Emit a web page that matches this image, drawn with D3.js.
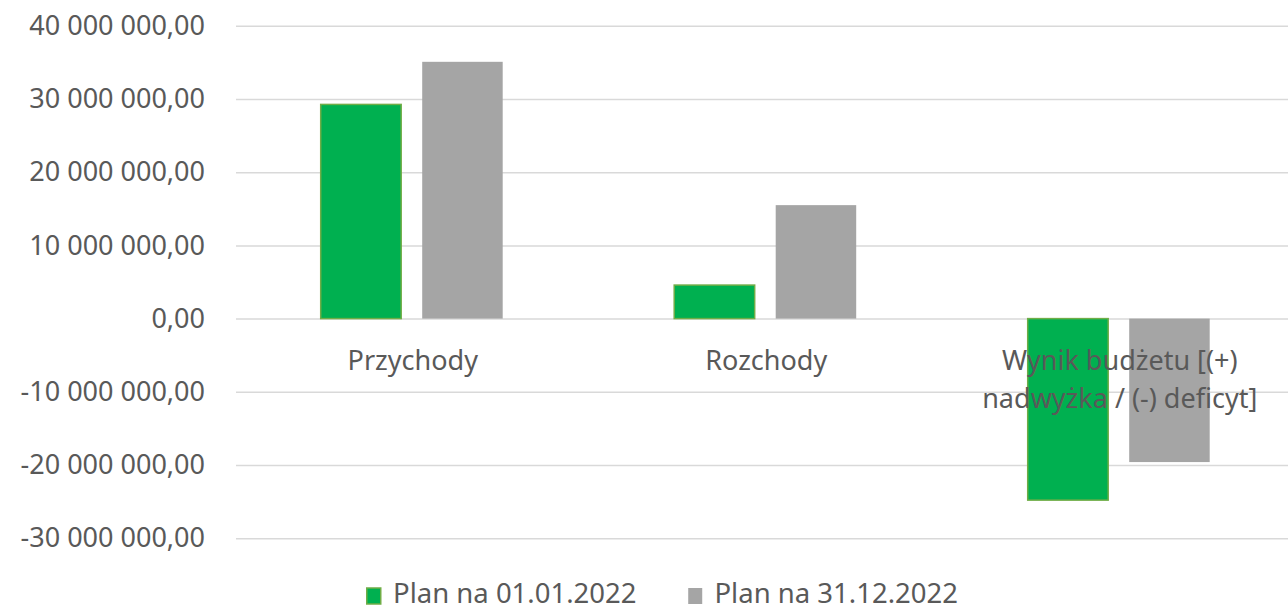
<!DOCTYPE html>
<html>
<head>
<meta charset="utf-8">
<script src="https://cdn.jsdelivr.net/npm/d3@7"></script>
<style>
  html, body { margin: 0; padding: 0; background: #fff; }
  svg { display: block; }
  text { font-family: "Noto Sans", sans-serif; fill: #595959; }
</style>
</head>
<body>
<div class="chartWrapper"></div>
<script>
// data
var categories = ['Przychody', 'Rozchody', 'Wynik budżetu [(+) nadwyżka / (-) deficyt]'];
var seriesNames = ['Plan na 01.01.2022', 'Plan na 31.12.2022'];
var plan0101 = [29260000, 4580000, -24800000];
var plan3112 = [35080000, 15500000, -19600000];
var yTicks = [-30000000, -20000000, -10000000, 0, 10000000, 20000000, 30000000, 40000000];

var seriesColors = ['#00b050', '#a5a5a5'];
var seriesStroke = ['#70ad47', 'none'];

var width = 1288, height = 612;
var plot = { left: 236, right: 1296.5, top: 25.8, bottom: 538.2 };
var fontSize = 27;

var plLocale = d3.formatLocale({ decimal: ',', thousands: '\u00a0', grouping: [3], currency: ['', ''], minus: '-' });
var fmt = plLocale.format(',.2f');

var svg = d3.select('.chartWrapper')
  .append('svg')
  .attr('width', width)
  .attr('height', height);

var x0 = d3.scaleBand()
  .domain(categories)
  .range([plot.left, plot.right]);

var x1 = d3.scaleBand()
  .domain(d3.range(seriesNames.length))
  .range([84.7, 266.7])
  .paddingInner(0.207);

var y = d3.scaleLinear()
  .domain([yTicks[0], yTicks[yTicks.length - 1]])
  .range([plot.bottom, plot.top]);

// gridlines + y labels
var yAxis = d3.axisLeft(y)
  .tickValues(yTicks)
  .tickFormat(fmt)
  .tickSizeInner(-(plot.right - plot.left))
  .tickSizeOuter(0)
  .tickPadding(31);

var gy = svg.append('g')
  .attr('class', 'axis yAxis')
  .attr('transform', 'translate(' + plot.left + ',0)')
  .call(yAxis);
gy.select('.domain').remove();
gy.selectAll('line').attr('stroke', '#d9d9d9').attr('stroke-width', 1.5);
gy.selectAll('text')
  .attr('font-size', fontSize)
  .attr('font-family', '"Noto Sans", sans-serif')
  .attr('fill', '#595959');

// bars
var rows = categories.map(function (c, i) {
  return { cat: c, values: [plan0101[i], plan3112[i]] };
});

var groups = svg.selectAll('.catGroup')
  .data(rows)
  .enter()
  .append('g')
  .attr('class', 'catGroup')
  .attr('transform', function (d) { return 'translate(' + x0(d.cat) + ',0)'; });

groups.selectAll('rect')
  .data(function (d) { return d.values; })
  .enter()
  .append('rect')
  .attr('x', function (d, i) { return x1(i); })
  .attr('y', function (d) { return y(Math.max(0, d)); })
  .attr('width', x1.bandwidth())
  .attr('height', function (d) { return Math.abs(y(d) - y(0)); })
  .attr('fill', function (d, i) { return seriesColors[i]; })
  .attr('stroke', function (d, i) { return seriesStroke[i]; })
  .attr('stroke-width', 1.5);

// category labels (on top of bars, wrapped to band width)
var xAxis = d3.axisBottom(x0).tickSize(0).tickPadding(0);
var gx = svg.append('g')
  .attr('class', 'axis xAxis')
  .attr('transform', 'translate(0,' + y(0) + ')')
  .call(xAxis);
gx.select('.domain').remove();
gx.selectAll('text')
  .attr('font-size', fontSize)
  .attr('font-family', '"Noto Sans", sans-serif')
  .attr('fill', '#595959')
  .attr('y', 51.5)
  .attr('dy', 0)
  .each(function () { wrap(d3.select(this), x0.bandwidth() - 10); });

function wrap(text, maxW) {
  var words = text.text().split(/\s+/);
  var line = [], lineNo = 0;
  var yy = text.attr('y');
  text.text(null);
  var tspan = text.append('tspan').attr('x', 0).attr('y', yy);
  words.forEach(function (w) {
    line.push(w);
    tspan.text(line.join(' '));
    if (tspan.node().getComputedTextLength() > maxW && line.length > 1) {
      line.pop();
      tspan.text(line.join(' '));
      line = [w];
      lineNo++;
      tspan = text.append('tspan').attr('x', 0).attr('y', yy).attr('dy', lineNo * 38).text(w);
    }
  });
}

// legend
var legend = svg.append('g').attr('class', 'legend');
var lx = 366;
seriesNames.forEach(function (name, i) {
  var item = legend.append('g').attr('transform', 'translate(' + lx + ',0)');
  item.append('rect')
    .attr('x', 0.75).attr('y', 588)
    .attr('width', 14).attr('height', 16)
    .attr('fill', seriesColors[i])
    .attr('stroke', seriesStroke[i])
    .attr('stroke-width', 1.5);
  var t = item.append('text')
    .attr('x', 27).attr('y', 603)
    .attr('font-size', 27.5)
    .text(name);
  lx += 27 + t.node().getComputedTextLength() + 51;
});
</script>
</body>
</html>
